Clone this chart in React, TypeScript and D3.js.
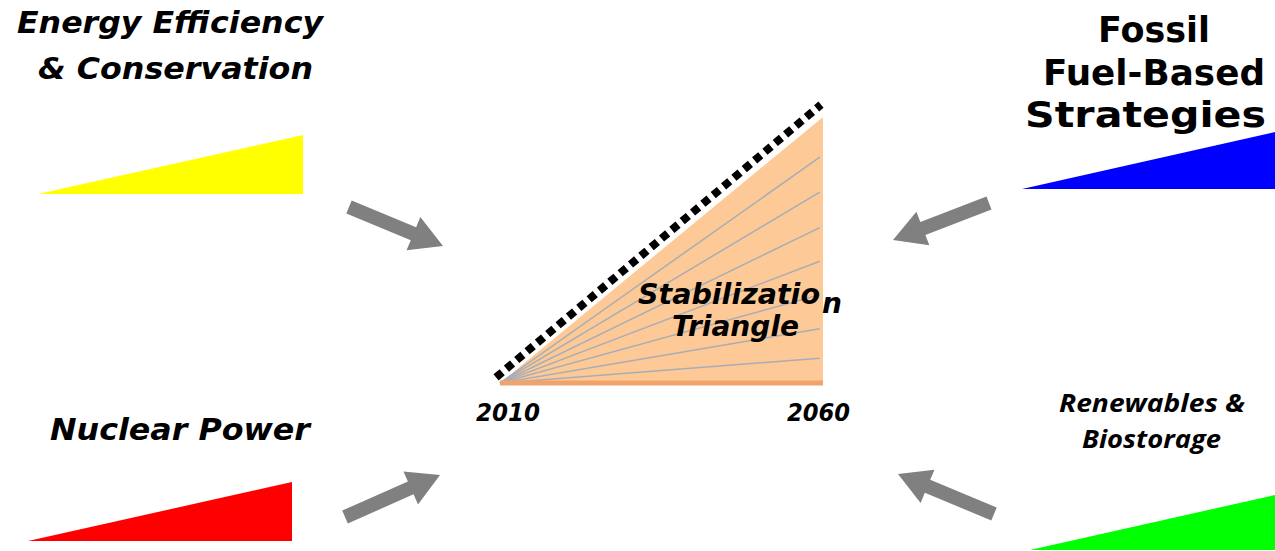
import * as d3 from 'd3';

// years covered by the stabilization triangle
const years = [2010, 2060];
// number of wedges in the triangle (top of the triangle)
const wedgeTotal = 8;
// heights (in wedges) where the grey wedge lines end at 2060
const wedgeLines = [0.75, 1.65, 2.68, 3.7, 4.72, 5.8, 6.86];

// the four strategy groups
const strategyNames = ['efficiency', 'fossil', 'nuclear', 'renewables'];
const strategyLabels = [
  ['Energy Efficiency', '& Conservation'],
  ['Fossil', 'Fuel-Based', 'Strategies'],
  ['Nuclear Power'],
  ['Renewables &', 'Biostorage'],
];
const strategyColors = ['#ffff00', '#0000ff', '#ff0000', '#00ff00'];

// layout (pixels) kept apart from the data
const tri = { x0: 500, x1: 823, yBase: 383, yTop: 117 };
const wedgeBoxes = [
  { x0: 38, x1: 303, yBase: 194, yTop: 135 },
  { x0: 1022, x1: 1275, yBase: 189, yTop: 132 },
  { x0: 28, x1: 292, yBase: 541, yTop: 482 },
  { x0: 1030, x1: 1275, yBase: 550, yTop: 495 },
];
const labelPos = [
  { xs: [17, 38], ys: [33, 79], ws: [306, 275], size: 31, font: 'DejaVu Sans', italic: true },
  { xs: [1098, 1043, 1025], ys: [42, 85, 127], ws: [112, 222, 241], size: 36, font: 'DejaVu Sans', italic: false },
  { xs: [50], ys: [440], ws: [260], size: 31, font: 'DejaVu Sans', italic: true },
  { xs: [1059, 1082], ys: [412, 448], ws: [186, 139], size: 25, font: 'Open Sans', italic: true },
];
const arrows = [
  { from: [349, 207], to: [443, 246] },
  { from: [989, 203], to: [893, 240] },
  { from: [345, 517], to: [440, 475] },
  { from: [994, 514], to: [898, 474] },
];

const arrowPath = (from: number[], to: number[]) => {
  const dx = to[0] - from[0];
  const dy = to[1] - from[1];
  const len = Math.hypot(dx, dy);
  const ux = dx / len, uy = dy / len;
  const px = -uy, py = ux;
  const sw = 7, hw = 18, hl = 32;
  const bx = to[0] - ux * hl, by = to[1] - uy * hl;
  const pts: [number, number][] = [
    [from[0] + px * sw, from[1] + py * sw],
    [bx + px * sw, by + py * sw],
    [bx + px * hw, by + py * hw],
    [to[0], to[1]],
    [bx - px * hw, by - py * hw],
    [bx - px * sw, by - py * sw],
    [from[0] - px * sw, from[1] - py * sw],
  ];
  return d3.line()(pts) + 'Z';
};

export default function App() {
  const x = d3.scaleLinear().domain(years).range([tri.x0, tri.x1]);
  const y = d3.scaleLinear().domain([0, wedgeTotal]).range([tri.yBase, tri.yTop]);
  const line = d3.line<[number, number]>().x(d => x(d[0])).y(d => y(d[1]));

  const triPath = line([[years[0], 0], [years[1], wedgeTotal], [years[1], 0]]) + 'Z';

  return (
    <svg width={1275} height={551} style={{ position: 'absolute', left: 0, top: 0, background: '#fff' }}>
      {/* side wedges */}
      {strategyNames.map((name, i) => {
        const b = wedgeBoxes[i];
        const sx = d3.scaleLinear().domain([0, 1]).range([b.x0, b.x1]);
        const sy = d3.scaleLinear().domain([0, 1]).range([b.yBase, b.yTop]);
        const p = d3.line<[number, number]>().x(d => sx(d[0])).y(d => sy(d[1]))([[0, 0], [1, 1], [1, 0]]) + 'Z';
        return <path key={name} d={p} fill={strategyColors[i]} />;
      })}

      {/* labels */}
      {strategyLabels.map((lines, i) => {
        const lp = labelPos[i];
        return lines.map((t, j) => (
          <text key={`${i}-${j}`} x={lp.xs[j]} y={lp.ys[j]}
            fontFamily={lp.font} fontWeight="bold" fontStyle={lp.italic ? 'italic' : 'normal'}
            fontSize={lp.size} fill="#000" textLength={lp.ws[j]} lengthAdjust="spacingAndGlyphs">{t}</text>
        ));
      })}

      {/* arrows */}
      {arrows.map((a, i) => (
        <path key={i} d={arrowPath(a.from, a.to)} fill="#808080" />
      ))}

      {/* stabilization triangle */}
      <path d={triPath} fill="#fdca97" />
      {wedgeLines.map((w, i) => (
        <path key={i} d={line([[years[0], 0], [years[1] - 0.5, w * (1 - 0.5 / 50)]]) || ''}
          stroke="#a8adb5" strokeWidth={1.5} fill="none" />
      ))}
      <path d={line([[years[0], 0], [years[1], 0]]) || ''} stroke="#f2a36c" strokeWidth={5} fill="none" />
      <path d={line([[years[0] - 0.3, 0.05], [years[1], wedgeTotal + 0.25]]) || ''}
        transform="translate(-2,-4)" stroke="#000" strokeWidth={8} strokeDasharray="8 5.5" fill="none" />

      {/* triangle text */}
      <g fontFamily="DejaVu Sans" fontWeight="bold" fontStyle="italic" fontSize={28} fill="#000">
        <text x={638} y={304} textLength={182} lengthAdjust="spacingAndGlyphs">Stabilizatio</text>
        <text x={822} y={313}>n</text>
        <text x={672} y={336} textLength={127} lengthAdjust="spacingAndGlyphs">Triangle</text>
      </g>
      <g fontFamily="DejaVu Sans" fontWeight="bold" fontStyle="italic" fontSize={24} fill="#000">
        <text x={476} y={421} textLength={64} lengthAdjust="spacingAndGlyphs">{years[0]}</text>
        <text x={787} y={421} textLength={63} lengthAdjust="spacingAndGlyphs">{years[1]}</text>
      </g>
    </svg>
  );
}
